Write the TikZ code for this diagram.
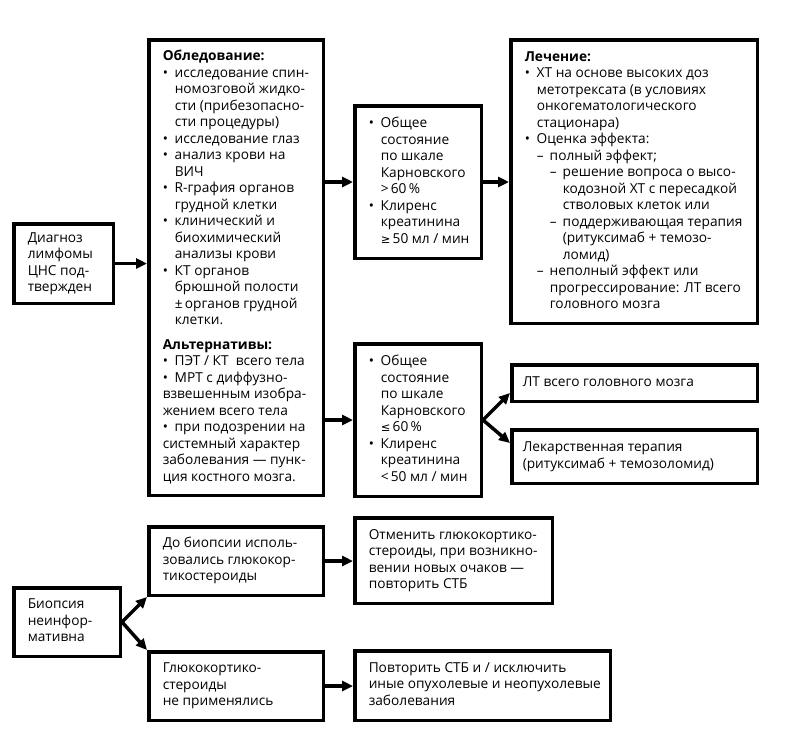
\documentclass[tikz,border=0pt]{standalone}
\usepackage{fontspec}
\setmainfont{Open Sans}
\newfontfamily\symf{DejaVu Sans}
\usetikzlibrary{arrows.meta,calc}
\newcommand{\bul}{\makebox[12pt][l]{\textbullet}}
\newcommand{\ind}{\hspace*{12pt}}
\newcommand{\dsh}{\makebox[13pt][l]{–}}
\newcommand{\boxlines}[2]{\makebox[#1][l]{\begin{tabular}{@{}l@{}}#2\end{tabular}}}
\begin{document}
\begin{tikzpicture}[x=1pt,y=-1pt,
  box/.style={draw, line width=3.5pt, inner xsep=14pt, inner ysep=0pt, anchor=north west,
    font=\fontsize{13.7}{16.5}\selectfont},
  arr/.style={line width=3.5pt, -{Triangle[length=11pt,width=10pt]}}]
\useasboundingbox[fill=white] (0,0) rectangle (787,732);

\node[box, minimum width=99.5pt, minimum height=79.5pt] (diag) at (12,222)
  {\boxlines{71.5pt}{Диагноз\\лимфомы\\ЦНС под-\\твержден}};

\node[box, minimum width=174.5pt, minimum height=455.5pt] (big) at (147,38)
  {\boxlines{146.5pt}{%
  \textbf{Обледование:}\\
  \bul исследование спин-\\
  \ind номозговой жидко-\\
  \ind сти (прибезопасно-\\
  \ind сти процедуры)\\
  \bul исследование глаз\\
  \bul анализ крови на\\
  \ind ВИЧ\\
  \bul R-графия органов\\
  \ind грудной клетки\\
  \bul клинический и\\
  \ind биохимический\\
  \ind анализы крови\\
  \bul КТ органов\\
  \ind брюшной полости\\
  \ind ±\,органов грудной\\
  \ind клетки.\\[8pt]
  \textbf{Альтернативы:}\\
  \bul ПЭТ / КТ \ всего тела\\
  \bul МРТ с диффузно-\\
  взвешенным изобра-\\
  жением всего тела\\
  \bul при подозрении на\\
  системный характер\\
  заболевания — пунк-\\
  ция костного мозга.}};

\node[box, minimum width=126.5pt, minimum height=152.5pt] (gt) at (353,104)
  {\boxlines{98.5pt}{%
  \bul Общее\\
  \ind состояние\\
  \ind по шкале\\
  \ind Карновского\\
  \ind >\,60\,\%\\
  \bul Клиренс\\
  \ind креатинина\\
  \ind {\symf\fontsize{11.5}{16.5}\selectfont ≥}\,50 мл / мин}};

\node[box, minimum width=246.5pt, minimum height=283.5pt] (treat) at (509,38)
  {\boxlines{218.5pt}{%
  \textbf{Лечение:}\\
  \bul ХТ на основе высоких доз\\
  \ind метотрексата (в условиях\\
  \ind онкогематологического\\
  \ind стационара)\\
  \bul Оценка эффекта:\\
  \ind\dsh полный эффект;\\
  \ind\hspace*{13pt}\dsh решение вопроса о высо-\\
  \ind\hspace*{26pt}кодозной ХТ с пересадкой\\
  \ind\hspace*{26pt}стволовых клеток или\\
  \ind\hspace*{13pt}\dsh поддерживающая терапия\\
  \ind\hspace*{26pt}(ритуксимаб + темозо-\\
  \ind\hspace*{26pt}ломид)\\
  \ind\dsh неполный эффект или\\
  \ind\hspace*{13pt}прогрессирование: ЛТ всего\\
  \ind\hspace*{13pt}головного мозга}};

\node[box, minimum width=126.5pt, minimum height=152.5pt] (le) at (353,342)
  {\boxlines{98.5pt}{%
  \bul Общее\\
  \ind состояние\\
  \ind по шкале\\
  \ind Карновского\\
  \ind {\symf\fontsize{11.5}{16.5}\selectfont ≤}\,60\,\%\\
  \bul Клиренс\\
  \ind креатинина\\
  \ind <\,50 мл / мин}};

\node[box, inner xsep=11pt, minimum width=245.5pt, minimum height=36.5pt] (lt) at (510,363)
  {\boxlines{223.5pt}{ЛТ всего головного мозга}};
\node[box, inner xsep=11pt, minimum width=245.5pt, minimum height=53.5pt] (drug) at (510,428)
  {\boxlines{223.5pt}{Лекарственная терапия\\(ритуксимаб + темозоломид)}};

\node[box, minimum width=106.5pt, minimum height=68.5pt] (bio) at (12,586)
  {\boxlines{78.5pt}{Биопсия\\неинфор-\\мативна}};
\node[box, minimum width=174.5pt, minimum height=68.5pt] (dob) at (147,525)
  {\boxlines{146.5pt}{До биопсии исполь-\\зовались глюкокор-\\тикостероиды}};
\node[box, minimum width=174.5pt, minimum height=68.5pt] (gk) at (147,650)
  {\boxlines{146.5pt}{Глюкокортико-\\стероиды\\не применялись}};
\node[box, minimum width=197.5pt, minimum height=85.5pt] (otm) at (353,516)
  {\boxlines{169.5pt}{Отменить глюкокортико-\\стероиды, при возникно-\\вении новых очаков~—\\повторить СТБ}};
\node[box, minimum width=255.5pt, minimum height=69.5pt] (pov) at (353,649)
  {\boxlines{227.5pt}{Повторить СТБ и / исключить\\иные опухолевые и неопухолевые\\заболевания}};

\draw[arr] (diag.east) -- (diag.east -| big.west);
\draw[arr] (gt.west -| big.east) -- (gt.west);
\draw[arr] (gt.east) -- (gt.east -| treat.west);
\draw[arr] (le.west -| big.east) -- (le.west);
\draw[arr] (le.east) -- ([yshift=10pt]lt.south west);
\draw[arr] (le.east) -- ([yshift=-15pt]drug.north west);
\draw[arr] (bio.east) -- (dob.south west);
\draw[arr] (bio.east) -- (gk.north west);
\draw[arr] (dob.east) -- (dob.east -| otm.west);
\draw[arr] (gk.east) -- (gk.east -| pov.west);
\end{tikzpicture}
\end{document}
